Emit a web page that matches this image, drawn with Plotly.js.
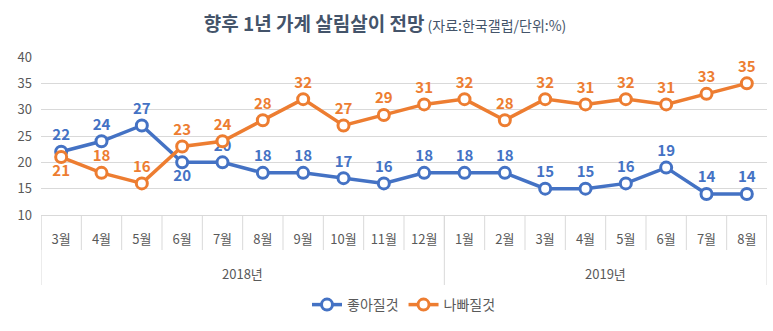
<!DOCTYPE html>
<html><head><meta charset="utf-8">
<script src="https://cdn.plot.ly/plotly-3.0.1.min.js"></script>
<style>body{margin:0;background:#fff}#c{width:773px;height:331px}</style>
</head><body><div id="c"></div>
<script>
const yearLabels = ['2018년','2019년'];
const yearCounts = [10, 8];
const months = ['3월','4월','5월','6월','7월','8월','9월','10월','11월','12월','1월','2월','3월','4월','5월','6월','7월','8월'];
const good = [22,24,27,20,20,18,18,17,16,18,18,18,15,15,16,19,14,14];
const bad = [21,18,16,23,24,28,32,27,29,31,32,28,32,31,32,31,33,35];
const idx = months.map((m,i)=>i);
const goodPos = good.map((v,i)=> i===3 ? 'bottom center' : 'top center');
const badPos = bad.map((v,i)=> i===0 ? 'bottom center' : 'top center');
const font = '"Noto Sans CJK KR", "Noto Sans", sans-serif';
const blue = '#4472C4', orange = '#ED7D31', grid = '#d9d9d9';
function tr(name, y, color, pos){
  return {type:'scatter', mode:'lines+markers+text', name:name, x:idx, y:y,
    line:{color:color, width:3.5},
    marker:{symbol:'circle', size:11, color:'#fff', line:{color:color, width:3}},
    text:y.map(String), textposition:pos,
    textfont:{family:font, size:15, color:color, weight:'bold'},
    cliponaxis:false, hoverinfo:'skip'};
}
const data = [tr('좋아질것', good, blue, goodPos), tr('나빠질것', bad, orange, badPos)];
const plotH = 331-57-116;
const monthBottom = -(250-215)/plotH;
const yearBottom = -(285-215)/plotH;
const shapes = [];
for (let i=0;i<=months.length;i++){
  shapes.push({type:'line', xref:'x', yref:'paper', x0:i-0.5, x1:i-0.5, y0:0, y1:monthBottom, line:{color:grid, width:1}});
}
const annotations = [];
let start = 0;
const bounds = [-0.5];
yearLabels.forEach((yl,k)=>{
  const end = start + yearCounts[k];
  bounds.push(end-0.5);
  annotations.push({xref:'x', yref:'paper', x:(start+end-1)/2, y:-(273-215)/plotH, text:yl, showarrow:false,
    xanchor:'center', yanchor:'middle', font:{family:font, size:13, color:'#595959'}});
  start = end;
});
bounds.forEach(b=>shapes.push({type:'line', xref:'x', yref:'paper', x0:b, x1:b, y0:0, y1:yearBottom, line:{color:grid, width:1}}));
const layout = {
  width:773, height:331, paper_bgcolor:'#fff', plot_bgcolor:'#fff',
  margin:{l:41, r:6, t:57, b:116},
  font:{family:font, color:'#595959'},
  title:{text:'<b>향후 1년 가계 살림살이 전망</b><span style="font-size:14px"> (자료:한국갤럽/단위:%)</span>',
    x:385/773, xanchor:'center', xref:'container', y:1-24/331, yanchor:'middle', yref:'container',
    font:{family:font, size:19, color:'#44546A'}},
  xaxis:{range:[-0.5, months.length-0.5], tickvals:idx, ticktext:months, showgrid:false, zeroline:false,
    ticks:'', ticklabelstandoff:12, showline:true, linecolor:grid, linewidth:1,
    tickfont:{family:font, size:13, color:'#595959'}},
  yaxis:{range:[10,40], dtick:5, showgrid:true, gridcolor:grid, gridwidth:1, zeroline:false,
    showline:false, tickfont:{family:font, size:13, color:'#595959'}, ticklabelstandoff:8},
  shapes:shapes, annotations:annotations,
  showlegend:true,
  legend:{orientation:'h', x:0.5, xanchor:'center', y:-(305-215)/plotH, yanchor:'middle',
    font:{family:font, size:14, color:'#595959'}}
};
Plotly.newPlot('c', data, layout, {displayModeBar:false, staticPlot:true});
</script></body></html>
